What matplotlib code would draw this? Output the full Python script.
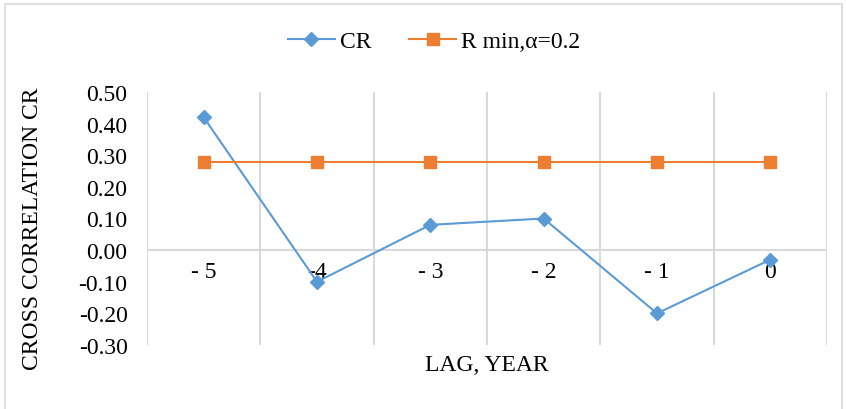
import matplotlib.pyplot as plt
from matplotlib.patches import Rectangle

# cross correlation by lag
lags = ["- 5", "-4", "- 3", "- 2", "- 1", "0"]
cr = [0.42, -0.10, 0.08, 0.10, -0.20, -0.03]
r_min = [0.28, 0.28, 0.28, 0.28, 0.28, 0.28]

plt.rcParams['font.family'] = ['Liberation Serif', 'DejaVu Serif']

fig = plt.figure(figsize=(8.46, 4.10), dpi=100)
W, H = 846, 410
ax = fig.add_axes([147 / W, 1 - 346 / H, (827 - 147) / W, (346 - 93) / H])

x = list(range(len(lags)))
ax.plot(x, cr, color='#5B9BD5', lw=1.5, marker='D', ms=7, label='CR', zorder=3)
ax.plot(x, r_min, color='#ED7D31', lw=1.5, marker='s', ms=8, label='R min,\u03b1=0.2', zorder=3)

ax.set_xlim(-0.5, len(lags) - 0.5)
ax.set_ylim(-0.30, 0.50)
ax.set_yticks([-0.3 + 0.1 * i for i in range(9)])
ax.set_yticklabels(['%.2f' % (-0.3 + 0.1 * i) for i in range(9)], fontsize=17)
ax.tick_params(axis='y', length=0, pad=14)
ax.set_xticks([])

# category separators and zero line
for i in range(len(lags) + 1):
    ax.axvline(i - 0.5, color='#d9d9d9', lw=1.5, zorder=1)
ax.axhline(0, color='#d9d9d9', lw=1.5, zorder=1)
for s in ax.spines.values():
    s.set_visible(False)

# category labels sit just under the zero line
for xi, lab in zip(x, lags):
    ax.annotate(lab, (xi, 0), xytext=(0, -8), textcoords='offset points',
                ha='center', va='top', fontsize=17, zorder=2)

fig.text(33 / W, 1 - 229 / H, 'CROSS CORRELATION CR', rotation=90,
         ha='center', va='center', fontsize=17)
fig.text(487 / W, 1 - 366 / H, 'LAG, YEAR', ha='center', va='center', fontsize=17)

fig.legend(loc='center', bbox_to_anchor=(434 / W, 1 - 42 / H), ncol=2,
           frameon=False, fontsize=17, handlelength=2.0, columnspacing=1.6,
           handletextpad=0.2)

fig.patches.append(Rectangle((5 / W, -0.1), (842 - 5) / W, 1.1 - 5 / H,
                             transform=fig.transFigure, fill=False,
                             edgecolor='#d9d9d9', lw=1.2))

fig.savefig('out.png', dpi=100)
